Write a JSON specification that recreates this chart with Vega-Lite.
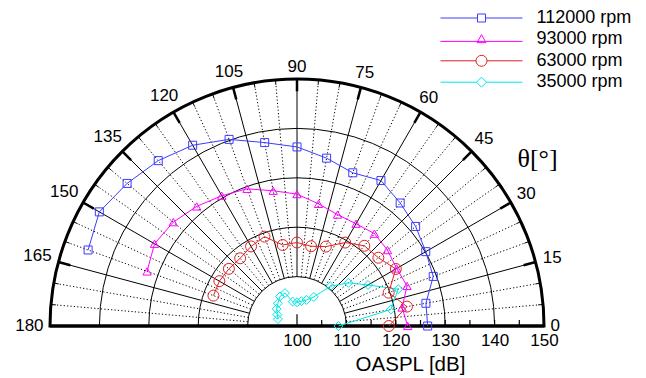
{
  "$schema": "https://vega.github.io/schema/vega-lite/v6.json",
  "width": 494,
  "height": 247,
  "autosize": {"type": "none"},
  "padding": {"left": 50, "top": 79, "right": 102, "bottom": 52},
  "background": "white",
  "config": {"view": {"stroke": null}, "font": "Liberation Sans", "axis": {"grid": false}},
  "datasets": {
    "pts": [
      {"series": "112000 rpm", "angle": 0, "oaspl": 126.45},
      {"series": "112000 rpm", "angle": 10, "oaspl": 126.5},
      {"series": "112000 rpm", "angle": 20, "oaspl": 129.35},
      {"series": "112000 rpm", "angle": 30, "oaspl": 130.1},
      {"series": "112000 rpm", "angle": 40, "oaspl": 131.35},
      {"series": "112000 rpm", "angle": 50, "oaspl": 132.5},
      {"series": "112000 rpm", "angle": 60, "oaspl": 134.0},
      {"series": "112000 rpm", "angle": 70, "oaspl": 133.0},
      {"series": "112000 rpm", "angle": 80, "oaspl": 134.5},
      {"series": "112000 rpm", "angle": 90, "oaspl": 136.25},
      {"series": "112000 rpm", "angle": 100, "oaspl": 137.7},
      {"series": "112000 rpm", "angle": 110, "oaspl": 140.2},
      {"series": "112000 rpm", "angle": 120, "oaspl": 142.25},
      {"series": "112000 rpm", "angle": 130, "oaspl": 143.7},
      {"series": "112000 rpm", "angle": 140, "oaspl": 144.9},
      {"series": "112000 rpm", "angle": 150, "oaspl": 146.2},
      {"series": "112000 rpm", "angle": 160, "oaspl": 145.0},
      {"series": "93000 rpm", "angle": 0, "oaspl": 122.4},
      {"series": "93000 rpm", "angle": 10, "oaspl": 121.6},
      {"series": "93000 rpm", "angle": 20, "oaspl": 123.7},
      {"series": "93000 rpm", "angle": 30, "oaspl": 123.3},
      {"series": "93000 rpm", "angle": 40, "oaspl": 123.9},
      {"series": "93000 rpm", "angle": 50, "oaspl": 124.4},
      {"series": "93000 rpm", "angle": 60, "oaspl": 123.9},
      {"series": "93000 rpm", "angle": 70, "oaspl": 124.0},
      {"series": "93000 rpm", "angle": 80, "oaspl": 125.1},
      {"series": "93000 rpm", "angle": 90, "oaspl": 126.7},
      {"series": "93000 rpm", "angle": 100, "oaspl": 127.8},
      {"series": "93000 rpm", "angle": 110, "oaspl": 129.55},
      {"series": "93000 rpm", "angle": 120, "oaspl": 130.45},
      {"series": "93000 rpm", "angle": 130, "oaspl": 131.6},
      {"series": "93000 rpm", "angle": 140, "oaspl": 132.7},
      {"series": "93000 rpm", "angle": 150, "oaspl": 133.3},
      {"series": "93000 rpm", "angle": 160, "oaspl": 132.3},
      {"series": "63000 rpm", "angle": 0, "oaspl": 118.6},
      {"series": "63000 rpm", "angle": 10, "oaspl": 122.6},
      {"series": "63000 rpm", "angle": 20, "oaspl": 119.75},
      {"series": "63000 rpm", "angle": 30, "oaspl": 123.1},
      {"series": "63000 rpm", "angle": 40, "oaspl": 121.5},
      {"series": "63000 rpm", "angle": 50, "oaspl": 121.2},
      {"series": "63000 rpm", "angle": 60, "oaspl": 119.5},
      {"series": "63000 rpm", "angle": 70, "oaspl": 117.1},
      {"series": "63000 rpm", "angle": 80, "oaspl": 116.4},
      {"series": "63000 rpm", "angle": 90, "oaspl": 116.9},
      {"series": "63000 rpm", "angle": 100, "oaspl": 116.65},
      {"series": "63000 rpm", "angle": 110, "oaspl": 119.25},
      {"series": "63000 rpm", "angle": 120, "oaspl": 118.6},
      {"series": "63000 rpm", "angle": 130, "oaspl": 117.9},
      {"series": "63000 rpm", "angle": 140, "oaspl": 118.0},
      {"series": "63000 rpm", "angle": 150, "oaspl": 118.15},
      {"series": "63000 rpm", "angle": 160, "oaspl": 118.0},
      {"series": "35000 rpm", "angle": 0, "oaspl": 108.4},
      {"series": "35000 rpm", "angle": 10, "oaspl": 119.3},
      {"series": "35000 rpm", "angle": 20, "oaspl": 121.8},
      {"series": "35000 rpm", "angle": 30, "oaspl": 116.6},
      {"series": "35000 rpm", "angle": 40, "oaspl": 113.6},
      {"series": "35000 rpm", "angle": 50, "oaspl": 110.5},
      {"series": "35000 rpm", "angle": 60, "oaspl": 106.8},
      {"series": "35000 rpm", "angle": 70, "oaspl": 105.6},
      {"series": "35000 rpm", "angle": 80, "oaspl": 105.1},
      {"series": "35000 rpm", "angle": 90, "oaspl": 104.8},
      {"series": "35000 rpm", "angle": 100, "oaspl": 105.0},
      {"series": "35000 rpm", "angle": 110, "oaspl": 107.1},
      {"series": "35000 rpm", "angle": 120, "oaspl": 106.9},
      {"series": "35000 rpm", "angle": 130, "oaspl": 106.0},
      {"series": "35000 rpm", "angle": 140, "oaspl": 105.4},
      {"series": "35000 rpm", "angle": 150, "oaspl": 104.6},
      {"series": "35000 rpm", "angle": 160, "oaspl": 104.1}
    ],
    "rings": [{"r": 110}, {"r": 120}, {"r": 130}, {"r": 140}, {"r": 150}],
    "spokes": [
      {"angle": 5}, {"angle": 10}, {"angle": 15}, {"angle": 20}, {"angle": 25}, {"angle": 30}, {"angle": 35},
      {"angle": 40}, {"angle": 45}, {"angle": 50}, {"angle": 55}, {"angle": 60}, {"angle": 65}, {"angle": 70},
      {"angle": 75}, {"angle": 80}, {"angle": 85}, {"angle": 90}, {"angle": 95}, {"angle": 100}, {"angle": 105},
      {"angle": 110}, {"angle": 115}, {"angle": 120}, {"angle": 125}, {"angle": 130}, {"angle": 135}, {"angle": 140},
      {"angle": 145}, {"angle": 150}, {"angle": 155}, {"angle": 160}, {"angle": 165}, {"angle": 170}, {"angle": 175}
    ],
    "angleLabels": [
      {"angle": 0}, {"angle": 15}, {"angle": 30}, {"angle": 45}, {"angle": 60}, {"angle": 75}, {"angle": 90},
      {"angle": 105}, {"angle": 120}, {"angle": 135}, {"angle": 150}, {"angle": 165}, {"angle": 180}
    ],
    "dbTicks": [
      {"v": 100}, {"v": 105}, {"v": 110}, {"v": 115}, {"v": 120}, {"v": 125}, {"v": 130}, {"v": 135}, {"v": 140}, {"v": 145}, {"v": 150}
    ]
  },
  "layer": [
    {
      "data": {"name": "rings"},
      "transform": [{"filter": "datum.r < 150"}],
      "mark": {"type": "arc", "fill": "transparent", "stroke": "black", "strokeWidth": 1, "theta": -1.5708, "theta2": 1.5708},
      "encoding": {
        "x": {"datum": 0, "type": "quantitative", "scale": {"domain": [-50, 50], "nice": false, "zero": false},
          "axis": {"values": [0, 10, 20, 30, 40, 50], "labelExpr": "datum.value + 100", "domain": false, "ticks": false, "grid": false,
            "labelFontSize": 17, "labelFont": "Liberation Sans", "labelColor": "black", "labelPadding": 6, "labelFlush": false, "labelOverlap": false,
            "title": "OASPL [dB]", "titleFontSize": 20.5, "titleFont": "Liberation Sans", "titleFontWeight": "normal", "titleColor": "black",
            "titleX": 360, "titleY": 44.5, "titleBaseline": "alphabetic", "titleAlign": "center"}},
        "y": {"datum": 0, "type": "quantitative", "scale": {"domain": [0, 50], "nice": false, "zero": false},
          "axis": {"orient": "right", "labels": false, "ticks": false, "domain": false, "grid": false,
            "title": "θ[°]", "titleAngle": 0, "titleFont": "Liberation Serif", "titleFontSize": 26, "titleFontWeight": "normal", "titleColor": "black",
            "titleX": -7, "titleY": 79, "titleAlign": "center", "titleBaseline": "middle"}},
        "radius": {"field": "r", "type": "quantitative", "scale": {"type": "linear", "domain": [100, 150], "range": [0, 247], "zero": false, "nice": false}, "stack": null}
      }
    },
    {
      "data": {"name": "spokes"},
      "transform": [
        {"filter": "datum.angle % 15 != 0"},
        {"calculate": "10*cos(datum.angle*PI/180)", "as": "x1"},
        {"calculate": "10*sin(datum.angle*PI/180)", "as": "y1"},
        {"calculate": "49*cos(datum.angle*PI/180)", "as": "x2"},
        {"calculate": "49*sin(datum.angle*PI/180)", "as": "y2"}
      ],
      "mark": {"type": "rule", "stroke": "black", "strokeWidth": 1, "strokeDash": [1.2, 2.2]},
      "encoding": {
        "x": {"field": "x1", "type": "quantitative", "scale": {"domain": [-50, 50], "nice": false, "zero": false}},
        "y": {"field": "y1", "type": "quantitative", "scale": {"domain": [0, 50], "nice": false, "zero": false}},
        "x2": {"field": "x2"},
        "y2": {"field": "y2"}
      }
    },
    {
      "data": {"name": "spokes"},
      "transform": [
        {"filter": "datum.angle % 15 != 0"},
        {"calculate": "49*cos(datum.angle*PI/180)", "as": "x1"},
        {"calculate": "49*sin(datum.angle*PI/180)", "as": "y1"},
        {"calculate": "50*cos(datum.angle*PI/180)", "as": "x2"},
        {"calculate": "50*sin(datum.angle*PI/180)", "as": "y2"}
      ],
      "mark": {"type": "rule", "stroke": "black", "strokeWidth": 1},
      "encoding": {
        "x": {"field": "x1", "type": "quantitative", "scale": {"domain": [-50, 50], "nice": false, "zero": false}},
        "y": {"field": "y1", "type": "quantitative", "scale": {"domain": [0, 50], "nice": false, "zero": false}},
        "x2": {"field": "x2"},
        "y2": {"field": "y2"}
      }
    },
    {
      "data": {"name": "spokes"},
      "transform": [
        {"filter": "datum.angle % 15 == 0"},
        {"calculate": "10*cos(datum.angle*PI/180)", "as": "x1"},
        {"calculate": "10*sin(datum.angle*PI/180)", "as": "y1"},
        {"calculate": "50*cos(datum.angle*PI/180)", "as": "x2"},
        {"calculate": "50*sin(datum.angle*PI/180)", "as": "y2"}
      ],
      "mark": {"type": "rule", "stroke": "black", "strokeWidth": 1},
      "encoding": {
        "x": {"field": "x1", "type": "quantitative", "scale": {"domain": [-50, 50], "nice": false, "zero": false}},
        "y": {"field": "y1", "type": "quantitative", "scale": {"domain": [0, 50], "nice": false, "zero": false}},
        "x2": {"field": "x2"},
        "y2": {"field": "y2"}
      }
    },
    {
      "data": {"name": "spokes"},
      "transform": [
        {"filter": "datum.angle % 15 == 0"},
        {"calculate": "47.5*cos(datum.angle*PI/180)", "as": "x1"},
        {"calculate": "47.5*sin(datum.angle*PI/180)", "as": "y1"},
        {"calculate": "50*cos(datum.angle*PI/180)", "as": "x2"},
        {"calculate": "50*sin(datum.angle*PI/180)", "as": "y2"}
      ],
      "mark": {"type": "rule", "stroke": "black", "strokeWidth": 2.5},
      "encoding": {
        "x": {"field": "x1", "type": "quantitative", "scale": {"domain": [-50, 50], "nice": false, "zero": false}},
        "y": {"field": "y1", "type": "quantitative", "scale": {"domain": [0, 50], "nice": false, "zero": false}},
        "x2": {"field": "x2"},
        "y2": {"field": "y2"}
      }
    },
    {
      "data": {"name": "rings"},
      "transform": [{"filter": "datum.r == 150"}],
      "mark": {"type": "arc", "fill": "transparent", "stroke": "black", "strokeWidth": 3, "theta": -1.5708, "theta2": 1.5708},
      "encoding": {
        "x": {"datum": 0, "type": "quantitative", "scale": {"domain": [-50, 50], "nice": false, "zero": false}},
        "y": {"datum": 0, "type": "quantitative", "scale": {"domain": [0, 50], "nice": false, "zero": false}},
        "radius": {"field": "r", "type": "quantitative", "scale": {"type": "linear", "domain": [100, 150], "range": [0, 247], "zero": false, "nice": false}, "stack": null}
      }
    },
    {
      "data": {"name": "dbTicks"},
      "transform": [
        {"calculate": "datum.v - 100", "as": "px"},
        {"calculate": "datum.v == 100 ? 2.4 : 1.2", "as": "len"}
      ],
      "mark": {"type": "rule", "stroke": "black", "strokeWidth": 1.2},
      "encoding": {
        "x": {"field": "px", "type": "quantitative", "scale": {"domain": [-50, 50], "nice": false, "zero": false}},
        "y": {"field": "len", "type": "quantitative", "scale": {"domain": [0, 50], "nice": false, "zero": false}},
        "y2": {"datum": 0}
      }
    },
    {
      "data": {"name": "rings"},
      "transform": [{"filter": "datum.r == 150"}],
      "mark": {"type": "rule", "stroke": "black", "strokeWidth": 3},
      "encoding": {
        "y": {"datum": 0, "type": "quantitative", "scale": {"domain": [0, 50], "nice": false, "zero": false}}
      }
    },
    {
      "data": {"name": "angleLabels"},
      "transform": [
        {"calculate": "cos(datum.angle*PI/180)", "as": "c"},
        {"calculate": "sin(datum.angle*PI/180)", "as": "s"},
        {"calculate": "51.3 + abs(datum.c)*0.957*length(toString(datum.angle)) + abs(datum.s)*1.23", "as": "lr"},
        {"calculate": "datum.lr*datum.c", "as": "lx"},
        {"calculate": "datum.lr*datum.s", "as": "ly"}
      ],
      "mark": {"type": "text", "fontSize": 17, "font": "Liberation Sans", "color": "black", "align": "center", "baseline": "middle"},
      "encoding": {
        "x": {"field": "lx", "type": "quantitative", "scale": {"domain": [-50, 50], "nice": false, "zero": false}},
        "y": {"field": "ly", "type": "quantitative", "scale": {"domain": [0, 50], "nice": false, "zero": false}},
        "text": {"field": "angle", "type": "quantitative"}
      }
    },
    {
      "data": {"name": "pts"},
      "transform": [
        {"calculate": "(datum.oaspl-100)*cos(datum.angle*PI/180)", "as": "px"},
        {"calculate": "(datum.oaspl-100)*sin(datum.angle*PI/180)", "as": "py"}
      ],
      "mark": {"type": "line", "strokeWidth": 1},
      "encoding": {
        "x": {"field": "px", "type": "quantitative", "scale": {"domain": [-50, 50], "nice": false, "zero": false}},
        "y": {"field": "py", "type": "quantitative", "scale": {"domain": [0, 50], "nice": false, "zero": false}},
        "stroke": {"field": "series", "type": "nominal",
          "scale": {"domain": ["35000 rpm", "63000 rpm", "93000 rpm", "112000 rpm"], "range": ["#00e6e6", "#e02020", "#ff00ff", "#3c3cff"]},
          "legend": null},
        "order": {"field": "angle", "type": "quantitative"}
      }
    },
    {
      "data": {"name": "pts"},
      "transform": [
        {"filter": "datum.series == '112000 rpm'"},
        {"calculate": "(datum.oaspl-100)*cos(datum.angle*PI/180)", "as": "px"},
        {"calculate": "(datum.oaspl-100)*sin(datum.angle*PI/180)", "as": "py"}
      ],
      "mark": {"type": "point", "shape": "square", "filled": false, "size": 64, "strokeWidth": 1, "stroke": "#3c3cff", "opacity": 1},
      "encoding": {
        "x": {"field": "px", "type": "quantitative", "scale": {"domain": [-50, 50], "nice": false, "zero": false}},
        "y": {"field": "py", "type": "quantitative", "scale": {"domain": [0, 50], "nice": false, "zero": false}}
      }
    },
    {
      "data": {"name": "pts"},
      "transform": [
        {"filter": "datum.series == '93000 rpm'"},
        {"calculate": "(datum.oaspl-100)*cos(datum.angle*PI/180)", "as": "px"},
        {"calculate": "(datum.oaspl-100)*sin(datum.angle*PI/180)", "as": "py"}
      ],
      "mark": {"type": "point", "shape": "triangle-up", "filled": false, "size": 70, "strokeWidth": 1, "stroke": "#ff00ff", "opacity": 1},
      "encoding": {
        "x": {"field": "px", "type": "quantitative", "scale": {"domain": [-50, 50], "nice": false, "zero": false}},
        "y": {"field": "py", "type": "quantitative", "scale": {"domain": [0, 50], "nice": false, "zero": false}}
      }
    },
    {
      "data": {"name": "pts"},
      "transform": [
        {"filter": "datum.series == '63000 rpm'"},
        {"calculate": "(datum.oaspl-100)*cos(datum.angle*PI/180)", "as": "px"},
        {"calculate": "(datum.oaspl-100)*sin(datum.angle*PI/180)", "as": "py"}
      ],
      "mark": {"type": "point", "shape": "circle", "filled": false, "size": 120, "strokeWidth": 1, "stroke": "#e02020", "opacity": 1},
      "encoding": {
        "x": {"field": "px", "type": "quantitative", "scale": {"domain": [-50, 50], "nice": false, "zero": false}},
        "y": {"field": "py", "type": "quantitative", "scale": {"domain": [0, 50], "nice": false, "zero": false}}
      }
    },
    {
      "data": {"name": "pts"},
      "transform": [
        {"filter": "datum.series == '35000 rpm'"},
        {"calculate": "(datum.oaspl-100)*cos(datum.angle*PI/180)", "as": "px"},
        {"calculate": "(datum.oaspl-100)*sin(datum.angle*PI/180)", "as": "py"}
      ],
      "mark": {"type": "point", "shape": "diamond", "filled": false, "size": 80, "strokeWidth": 1, "stroke": "#00e6e6", "opacity": 1},
      "encoding": {
        "x": {"field": "px", "type": "quantitative", "scale": {"domain": [-50, 50], "nice": false, "zero": false}},
        "y": {"field": "py", "type": "quantitative", "scale": {"domain": [0, 50], "nice": false, "zero": false}}
      }
    },
    {
      "data": {"name": "pts"},
      "transform": [{"filter": "false"}],
      "mark": {"type": "point", "filled": false, "size": 100, "strokeWidth": 1, "opacity": 1},
      "encoding": {
        "color": {"field": "series", "type": "nominal",
          "scale": {"domain": ["112000 rpm", "93000 rpm", "63000 rpm", "35000 rpm"], "range": ["#3c3cff", "#ff00ff", "#e02020", "#00e6e6"]},
          "legend": {"title": null, "orient": "none", "legendX": 422.5, "legendY": -70, "symbolSize": 100, "symbolStrokeWidth": 1,
            "symbolFillColor": "transparent", "symbolOpacity": 1, "labelFontSize": 18, "labelFont": "Liberation Sans", "labelColor": "black",
            "labelOffset": 46, "rowPadding": 3.4, "padding": 0, "labelLimit": 300}},
        "shape": {"field": "series", "type": "nominal",
          "scale": {"domain": ["112000 rpm", "93000 rpm", "63000 rpm", "35000 rpm"],
            "range": [
              "M-8.2,0H-0.8M0.8,0H8.2M-0.8,-0.8H0.8V0.8H-0.8Z",
              "M-8.2,0.4H8.2M0,-0.95L0.9,0.65L-0.9,0.65Z",
              "M-8.2,0H-1.1M1.1,0H8.2M-1.1,0A1.1,1.1,0,1,0,1.1,0A1.1,1.1,0,1,0,-1.1,0Z",
              "M-8.2,0H-1M1,0H8.2M0,-1L1,0L0,1L-1,0Z"
            ]},
          "legend": {"title": null, "orient": "none", "legendX": 422.5, "legendY": -70, "symbolSize": 100, "symbolStrokeWidth": 1,
            "symbolFillColor": "transparent", "symbolOpacity": 1, "labelFontSize": 18, "labelFont": "Liberation Sans", "labelColor": "black",
            "labelOffset": 46, "rowPadding": 3.4, "padding": 0, "labelLimit": 300}}
      }
    }
  ]
}
